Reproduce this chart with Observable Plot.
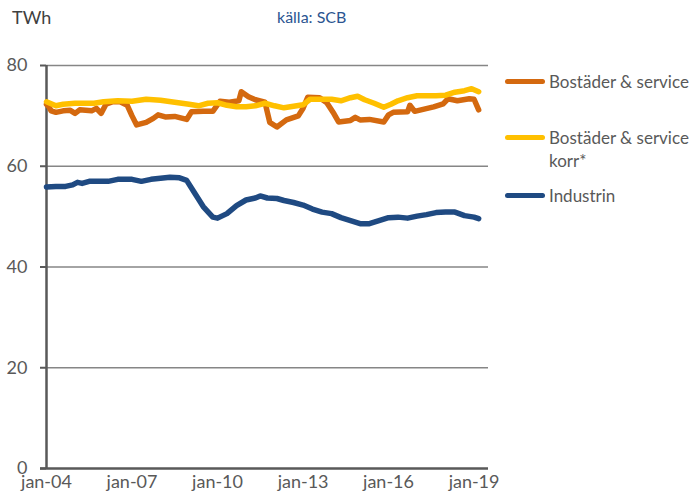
<!DOCTYPE html>
<html>
<head>
<meta charset="utf-8">
<script src="https://cdn.jsdelivr.net/npm/d3@7"></script>
<script src="https://cdn.jsdelivr.net/npm/@observablehq/plot@0.6"></script>
<style>
  html, body { margin: 0; padding: 0; background: #fff; }
  #wrap { position: relative; width: 691px; height: 499px; overflow: hidden; font-family: Lato, "Open Sans", sans-serif; }
  #wrap svg.plot { position: absolute; left: 0; top: 0; }
  .hdr { position: absolute; font-size: 18px; line-height: 20px; white-space: nowrap; }
  .leg { position: absolute; left: 505px; font-size: 17px; line-height: 23px; color: #595959; white-space: nowrap; }
  .leg .sw { position: absolute; left: 0; width: 40px; height: 5px; border-radius: 2.5px; }
  .leg .tx { position: absolute; left: 44px; }
</style>
</head>
<body>
<div id="wrap"></div>
<script>
// ---- data ----
const seriesNames = ["Bostäder & service", "Bostäder & service korr*", "Industrin"];
const seriesColors = ["#D4690F", "#FFC000", "#1F4A82"];

const bostaderDates = ["2004-01","2004-02","2004-03","2004-05","2004-08","2004-11","2005-01","2005-03","2005-08","2005-10","2005-12","2006-02","2006-05","2006-08","2006-11","2007-01","2007-03","2007-07","2007-10","2007-12","2008-03","2008-07","2008-12","2009-02","2009-07","2009-11","2010-02","2010-06","2010-10","2010-11","2011-02","2011-05","2011-09","2011-11","2012-02","2012-06","2012-11","2013-01","2013-03","2013-08","2013-11","2014-02","2014-04","2014-09","2014-11","2015-01","2015-05","2015-11","2016-01","2016-03","2016-09","2016-10","2016-12","2017-08","2017-12","2018-02","2018-06","2018-11","2019-01","2019-03"];
const bostaderValues = [72.3,71.8,71.0,70.7,71.0,71.1,70.5,71.2,71.0,71.5,70.5,72.3,72.8,72.8,72.1,70.0,68.2,68.7,69.5,70.2,69.8,69.9,69.3,70.8,70.9,70.9,72.9,72.7,73.0,74.8,73.8,73.2,72.7,68.7,67.8,69.2,70.0,71.5,73.7,73.6,72.6,70.4,68.8,69.1,69.7,69.2,69.3,68.8,70.2,70.7,70.8,72.1,70.9,71.8,72.4,73.4,73.0,73.4,73.3,71.2];

const korrDates = ["2004-01","2004-03","2004-05","2004-08","2005-01","2005-09","2006-01","2006-07","2007-01","2007-07","2008-01","2008-07","2009-01","2009-05","2009-09","2010-01","2010-05","2010-09","2011-01","2011-05","2011-09","2012-01","2012-05","2012-09","2013-01","2013-04","2014-01","2014-05","2014-09","2014-12","2015-03","2015-07","2015-11","2016-02","2016-05","2016-09","2017-01","2017-09","2018-01","2018-05","2018-09","2018-12","2019-03"];
const korrValues = [72.8,72.4,72.0,72.3,72.5,72.5,72.8,73.0,72.9,73.3,73.1,72.7,72.3,72.0,72.5,72.6,72.1,71.8,71.8,72.0,72.5,72.0,71.6,71.9,72.2,73.3,73.3,73.0,73.6,73.9,73.2,72.5,71.7,72.3,73.0,73.6,74.0,74.0,74.1,74.7,75.0,75.4,74.8];

const industriDates = ["2004-01","2004-05","2004-09","2004-12","2005-02","2005-04","2005-07","2006-03","2006-07","2007-01","2007-05","2007-09","2008-01","2008-05","2008-09","2008-12","2009-03","2009-07","2009-11","2010-01","2010-05","2010-09","2011-01","2011-05","2011-07","2011-10","2012-02","2012-05","2012-09","2013-01","2013-05","2013-09","2014-01","2014-05","2014-09","2015-01","2015-05","2015-09","2016-01","2016-05","2016-09","2017-01","2017-05","2017-09","2018-01","2018-05","2018-09","2019-01","2019-03"];
const industriValues = [55.9,56.0,56.0,56.3,56.8,56.6,57.0,57.0,57.4,57.4,57.0,57.4,57.6,57.8,57.7,57.2,55.0,52.0,49.9,49.7,50.6,52.2,53.3,53.7,54.1,53.7,53.6,53.2,52.8,52.3,51.5,50.9,50.6,49.8,49.2,48.6,48.6,49.2,49.8,49.9,49.7,50.1,50.4,50.8,50.9,50.9,50.2,49.9,49.6];

const yTicks = [0, 20, 40, 60, 80];
const xTickLabels = ["jan-04","jan-07","jan-10","jan-13","jan-16","jan-19"];
const xTickDates = ["2004-01","2007-01","2010-01","2013-01","2016-01","2019-01"];
const unitLabel = "TWh";
const sourceLabel = "källa: SCB";

// ---- build ----
const parse = d3.utcParse("%Y-%m");
function rows(dates, values, name) {
  return dates.map((d, i) => ({date: parse(d), value: values[i], series: name}));
}
const data = [
  ...rows(bostaderDates, bostaderValues, seriesNames[0]),
  ...rows(korrDates, korrValues, seriesNames[1]),
  ...rows(industriDates, industriValues, seriesNames[2])
];
const tickDates = xTickDates.map(parse);
const tickFmt = new Map(tickDates.map((d, i) => [+d, xTickLabels[i]]));

const xDomain = [parse("2004-01"), new Date(Date.UTC(2019, 6, 5))];

const chart = Plot.plot({
  width: 691,
  height: 499,
  marginLeft: 46,
  marginRight: 203,
  marginTop: 65,
  marginBottom: 31,
  style: {fontFamily: "Lato, 'Open Sans', sans-serif", fontSize: "18px", color: "#595959", background: "transparent"},
  x: {type: "utc", domain: xDomain, label: null},
  y: {domain: [0, 80], label: null},
  color: {domain: seriesNames, range: seriesColors},
  marks: [
    Plot.gridY(yTicks.filter(t => t > 0), {stroke: "#868686", strokeOpacity: 1, strokeWidth: 1.6}),
    Plot.ruleY([0], {stroke: "#595959", strokeWidth: 2.5, insetLeft: -6}),
    Plot.ruleX([xDomain[0]], {y1: 0, y2: 80, stroke: "#595959", strokeWidth: 2.5}),
    Plot.lineY(data, {x: "date", y: "value", z: "series", stroke: "series", strokeWidth: 5.5, strokeLinejoin: "round", strokeLinecap: "round"}),
    Plot.axisY({ticks: yTicks, tickSize: 6, tickPadding: 13, stroke: "#595959", strokeWidth: 2, fill: "#595959", fontSize: 18, label: null}),
    Plot.axisX({ticks: tickDates, tickSize: 0, tickPadding: 7, fill: "#595959", fontSize: 18, label: null, tickFormat: d => tickFmt.get(+d)})
  ]
});
chart.classList.add("plot");

const wrap = document.getElementById("wrap");
wrap.appendChild(chart);

function addDiv(cls, html, css) {
  const el = document.createElement("div");
  el.className = cls;
  el.innerHTML = html;
  Object.assign(el.style, css);
  wrap.appendChild(el);
  return el;
}
addDiv("hdr", unitLabel, {left: "12px", top: "7px", color: "#404040"});
addDiv("hdr", sourceLabel, {left: "277px", top: "7px", color: "#2B5591", fontSize: "16px"});

const legTops = [70, 126, 184];
const legLabels = ["Bostäder &amp; service", "Bostäder &amp; service<br>korr*", "Industrin"];
seriesNames.forEach((n, i) => {
  addDiv("leg", `<div class="sw" style="background:${seriesColors[i]};top:9px"></div><div class="tx">${legLabels[i]}</div>`, {top: legTops[i] + "px"});
});
</script>
</body>
</html>
